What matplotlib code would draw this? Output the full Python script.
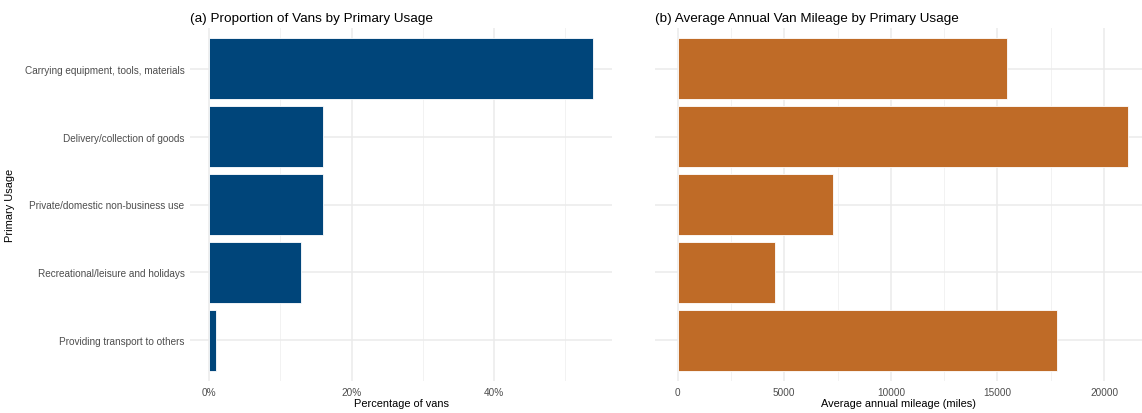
import matplotlib.pyplot as plt
import numpy as np
from matplotlib.ticker import FixedLocator

plt.rcParams['font.family'] = ['Liberation Sans', 'DejaVu Sans']

usages = [
    "Carrying equipment, tools, materials",
    "Delivery/collection of goods",
    "Private/domestic non-business use",
    "Recreational/leisure and holidays",
    "Providing transport to others",
]
pct_vans = [53.9, 16.0, 16.0, 12.9, 0.9]
avg_mileage = [15450, 21140, 7280, 4560, 17770]

W, H = 1142, 414
fig = plt.figure(figsize=(W / 100, H / 100), dpi=100)

grid_major = "#EBEBEB"
grid_minor = "#F2F2F2"
tick_col = "#4D4D4D"


def px_axes(x0, x1, y0, y1):
    return fig.add_axes([x0 / W, 1 - y1 / H, (x1 - x0) / W, (y1 - y0) / H])


def style(ax, major, minor):
    for s in ax.spines.values():
        s.set_visible(False)
    ax.set_ylim(len(usages) - 0.4, -0.6)
    ax.set_yticks(np.arange(len(usages)))
    ax.xaxis.set_major_locator(FixedLocator(major))
    ax.xaxis.set_minor_locator(FixedLocator(minor))
    ax.grid(True, which="major", color=grid_major, linewidth=1.1)
    ax.grid(True, which="minor", axis="x", color=grid_minor, linewidth=0.7)
    ax.set_axisbelow(True)
    ax.tick_params(which="both", length=0, colors=tick_col, labelsize=7.2, pad=4)


y = np.arange(len(usages))

ax1 = px_axes(190, 612, 29, 382)
ax1.barh(y, pct_vans, height=0.9, color="#00457A", edgecolor="white", linewidth=0.6)
ax1.set_xlim(-2.7, 56.6)
style(ax1, [0, 20, 40], [10, 30, 50])
ax1.set_xticklabels(["0%", "20%", "40%"])
ax1.set_yticklabels(usages)
ax1.set_xlabel("Percentage of vans", fontsize=7.9, labelpad=1)
ax1.set_ylabel("Primary Usage", fontsize=7.9)
ax1.yaxis.set_label_coords((15 - 190) / 422, 0.5)
ax1.set_title("(a) Proportion of Vans by Primary Usage", loc="left", fontsize=9.7, pad=5)

ax2 = px_axes(655, 1142, 29, 382)
ax2.barh(y, avg_mileage, height=0.9, color="#BF6B27", edgecolor="white", linewidth=0.6)
ax2.set_xlim(-1057, 21775)
style(ax2, [0, 5000, 10000, 15000, 20000], [2500, 7500, 12500, 17500])
ax2.set_xticklabels(["0", "5000", "10000", "15000", "20000"])
ax2.set_yticklabels([])
ax2.set_xlabel("Average annual mileage (miles)", fontsize=7.9, labelpad=1)
ax2.set_title("(b) Average Annual Van Mileage by Primary Usage", loc="left", fontsize=9.7, pad=5)

fig.savefig("out.png", dpi=100)
